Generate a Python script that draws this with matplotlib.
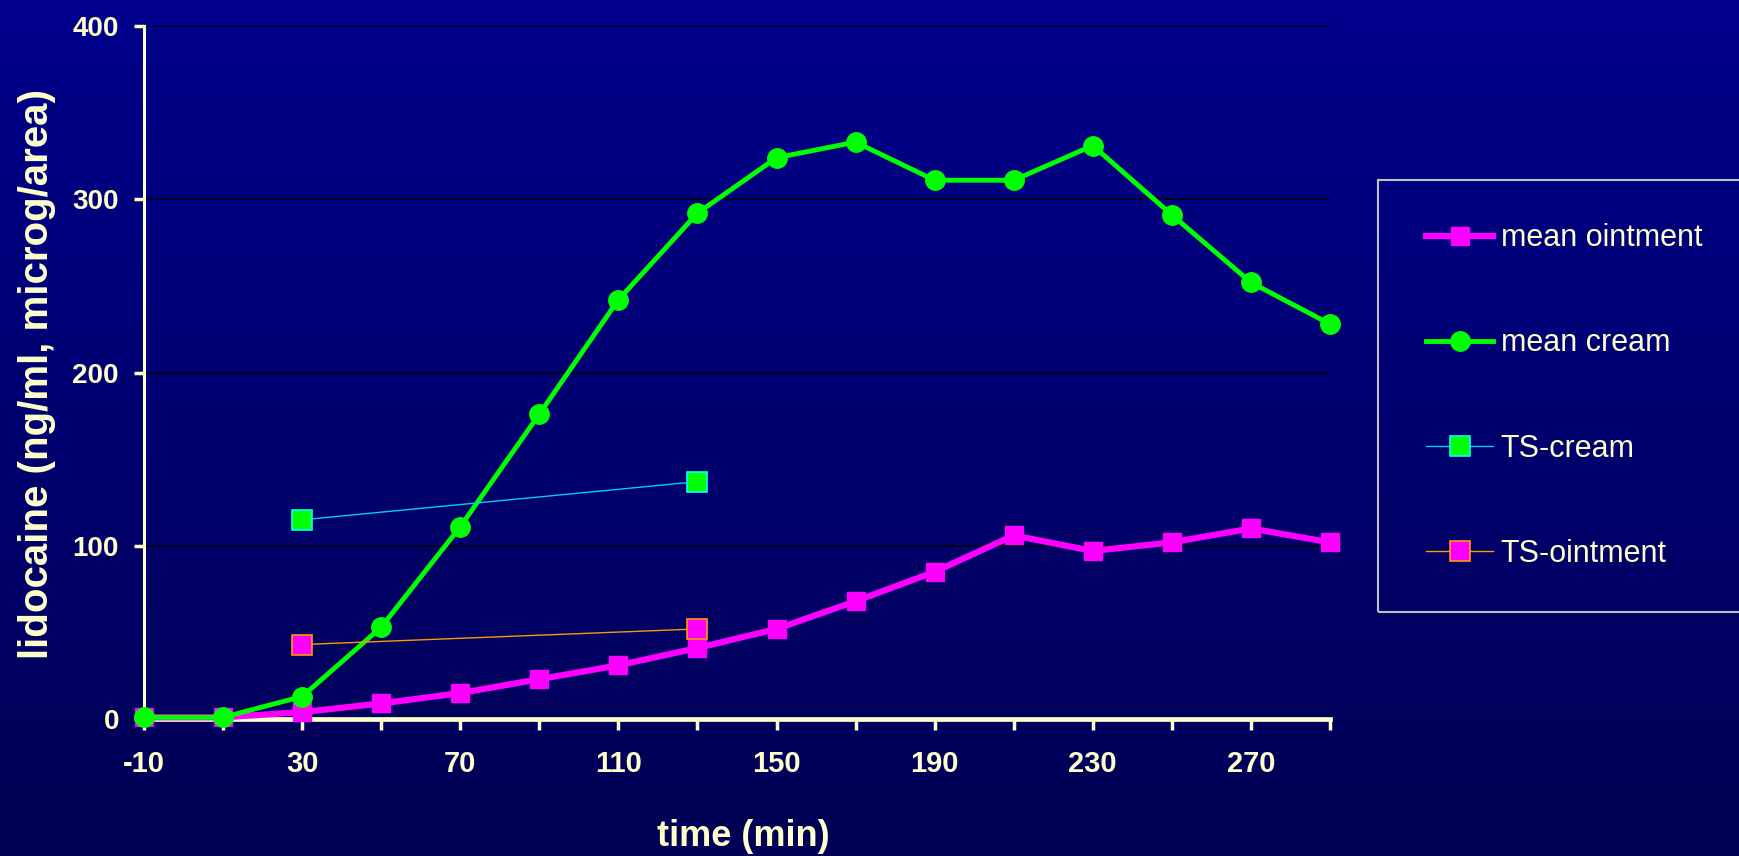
import numpy as np
import matplotlib
matplotlib.use("Agg")
import matplotlib.pyplot as plt
from matplotlib.patches import Rectangle

# Lidocaine levels, mean curves and single TS measurements
time_min = [-10, 10, 30, 50, 70, 90, 110, 130, 150, 170, 190, 210, 230, 250, 270, 290]
mean_ointment = [1, 1, 4, 9, 15, 23, 31, 41, 52, 68, 85, 106, 97, 102, 110, 102]
mean_cream = [1, 1, 13, 53, 111, 176, 242, 292, 324, 333, 311, 311, 331, 291, 252, 228]

ts_time = [30, 130]
ts_cream = [115, 137]
ts_ointment = [43, 52]

x_ticks = list(range(-10, 291, 20))
x_ticklabels = [str(t) if (t + 10) % 40 == 0 else "" for t in x_ticks]
y_ticks = [0, 100, 200, 300, 400]

CREAM_TXT = "#FFFFCC"
plt.rcParams["font.family"] = ["Liberation Sans", "DejaVu Sans"]

fig = plt.figure(figsize=(17.39, 8.56), dpi=100)

# navy gradient background
bg = fig.add_axes([0, 0, 1, 1], zorder=-10)
grad = np.linspace(0, 1, 256).reshape(-1, 1)
top = np.array([0, 0, 140]) / 255
bottom = np.array([0, 0, 84]) / 255
img = top + (bottom - top) * grad[:, :, None]
bg.imshow(img, aspect="auto", extent=[0, 1, 0, 1])
bg.set_axis_off()

ax = fig.add_axes([0.0828, 0.1600, 0.6820, 0.8096])
ax.set_facecolor("none")

ax.plot(time_min, mean_ointment, color="#FF00FF", lw=4.5, marker="s", ms=13,
        mfc="#FF00FF", mec="#FF00FF", label="mean ointment", clip_on=False, zorder=3)
ax.plot(time_min, mean_cream, color="#00FF00", lw=3.5, marker="o", ms=14,
        mfc="#00FF00", mec="#00FF00", label="mean cream", clip_on=False, zorder=4)
ax.plot(ts_time, ts_cream, color="#00CCFF", lw=1.0, marker="s", ms=14,
        mfc="#00FF00", mec="#00FFFF", mew=1.2, label="TS-cream", clip_on=False, zorder=5)
ax.plot(ts_time, ts_ointment, color="#FF9900", lw=1.0, marker="s", ms=14,
        mfc="#FF00FF", mec="#FF9900", mew=1.2, label="TS-ointment", clip_on=False, zorder=5)

ax.set_xlim(-10, 290)
ax.set_ylim(0, 400)
ax.set_xticks(x_ticks)
ax.set_xticklabels(x_ticklabels)
ax.set_yticks(y_ticks)

for yv in y_ticks[1:]:
    ax.axhline(yv, color="#000020", lw=1.5, zorder=1)

for side in ["top", "right"]:
    ax.spines[side].set_visible(False)
ax.spines["left"].set_color(CREAM_TXT)
ax.spines["left"].set_linewidth(2.2)
ax.spines["bottom"].set_color(CREAM_TXT)
ax.spines["bottom"].set_linewidth(3.4)

ax.tick_params(axis="x", direction="out", length=8, width=2.5, color=CREAM_TXT,
               labelcolor=CREAM_TXT, labelsize=21, pad=14)
ax.tick_params(axis="y", direction="out", length=7, width=2.5, color=CREAM_TXT,
               labelcolor=CREAM_TXT, labelsize=20, pad=11)
for lab in ax.get_xticklabels() + ax.get_yticklabels():
    lab.set_fontweight("bold")

fig.text(37 / 1739, 1 - 374 / 856, "lidocaine (ng/ml, microg/area)", rotation=90,
         ha="center", va="center", fontsize=29, fontweight="bold", color=CREAM_TXT)
fig.text(743 / 1739, 1 - 836 / 856, "time (min)", ha="center", va="center",
         fontsize=26, fontweight="bold", color=CREAM_TXT)

# legend box
fig.patches.append(Rectangle((1378 / 1739, 1 - 612 / 856), 0.23, 432 / 856,
                             transform=fig.transFigure, fill=False,
                             edgecolor="#C0C0C0", lw=1.5))
leg = fig.legend(loc="center left", bbox_to_anchor=(1426 / 1739, 1 - 396 / 856),
                 frameon=False, fontsize=22, handlelength=2.2, handletextpad=0.25,
                 labelspacing=2.46, borderpad=0, borderaxespad=0, numpoints=1)
for txt in leg.get_texts():
    txt.set_color(CREAM_TXT)

fig.savefig("out.png", dpi=100)
